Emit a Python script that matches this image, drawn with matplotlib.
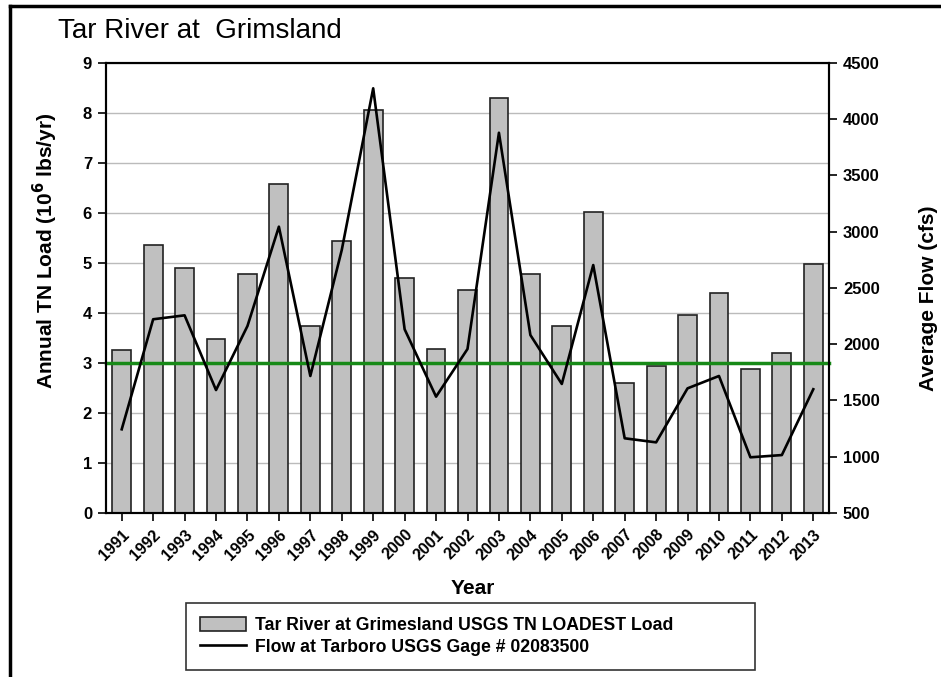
import matplotlib.pyplot as plt
from matplotlib.lines import Line2D
import numpy as np

plt.rcParams['font.family'] = ['Liberation Sans', 'DejaVu Sans']

years = list(range(1991, 2014))
tn_load = [3.27, 5.37, 4.90, 3.49, 4.79, 6.59, 3.75, 5.44, 8.06, 4.70, 3.29, 4.46,
           8.31, 4.79, 3.75, 6.03, 2.60, 2.94, 3.97, 4.40, 2.88, 3.21, 4.99]
flow = [1244, 2222, 2257, 1593, 2162, 3045, 1718, 2838, 4275, 2133, 1534, 1958,
        3880, 2082, 1647, 2704, 1164, 1128, 1608, 1718, 995, 1015, 1600]
target_load = 3.0

fig = plt.figure(figsize=(9.41, 6.77), dpi=100)
ax = fig.add_axes([106/941, 1 - 513/677, (829 - 106)/941, (513 - 63)/677])
ax2 = ax.twinx()

x = np.arange(len(years))
bars = ax.bar(x, tn_load, width=0.6, color='#c0c0c0', edgecolor='#222222',
              linewidth=1.2, zorder=2,
              label='Tar River at Grimesland USGS TN LOADEST Load')
ax.axhline(target_load, color='#178a17', lw=2.5, zorder=4, clip_on=False)
ax.set_xlim(-0.5, len(years) - 0.5)
ax.set_ylim(0, 9)
ax.set_yticks(range(0, 10))
ax.yaxis.grid(True, color='#bbbbbb', lw=1, zorder=0)
ax.set_axisbelow(True)
ax.set_xticks(x)
ax.set_xticklabels([str(y) for y in years], rotation=45, ha='right',
                   rotation_mode='anchor', fontsize=11.5, fontweight='bold')
for lab in ax.get_yticklabels():
    lab.set_fontweight('bold')
    lab.set_fontsize(12)
ax.tick_params(direction='out', length=6, width=1.2, pad=4)
ax.set_xlabel('Year', fontsize=15, fontweight='bold')
ax.xaxis.set_label_coords((473 - 106)/723, (513 - 588)/450)
ax.xaxis.label.set_va('center')
ax.set_ylabel('Annual TN Load (10$^{\\mathbf{6}}$ lbs/yr)', fontsize=15,
              fontweight='bold')
ax.yaxis.set_label_coords((45 - 106)/723, (513 - 251)/450)
ax.yaxis.label.set_va('center')

line, = ax2.plot(x, flow, color='black', lw=1.9, zorder=5,
                 label='Flow at Tarboro USGS Gage # 02083500')
ax2.set_ylim(500, 4500)
ax2.set_yticks(range(500, 4501, 500))
for lab in ax2.get_yticklabels():
    lab.set_fontweight('bold')
    lab.set_fontsize(12)
ax2.tick_params(direction='out', length=6, width=1.2, pad=4)
ax2.set_ylabel('Average Flow (cfs)', fontsize=15, fontweight='bold')
ax2.yaxis.set_label_coords((928 - 106)/723, (513 - 298)/450)
ax2.yaxis.label.set_va('center')

for a in (ax, ax2):
    for s in a.spines.values():
        s.set_linewidth(1.5)

fig.text(58/941, 1 - 28/677, 'Tar River at  Grimsland', fontsize=20,
         va='center_baseline')

leg = fig.legend(handles=[bars, line], loc='center', mode='expand',
                 bbox_to_anchor=(186/941, 1 - 670/677, 569/941, 67/677),
                 frameon=True, fancybox=False, edgecolor='black',
                 prop={'weight': 'bold', 'size': 12.7},
                 handlelength=2.6, handleheight=0.8, handletextpad=0.5,
                 borderpad=0.8, labelspacing=0.25, borderaxespad=0)
leg.get_frame().set_linewidth(1.2)

fig.add_artist(Line2D([10/941, 10/941], [0, 1 - 6/677], color='black', lw=2.5))
fig.add_artist(Line2D([10/941, 1], [1 - 6/677, 1 - 6/677], color='black', lw=2.5))

fig.savefig('out.png', dpi=100)
